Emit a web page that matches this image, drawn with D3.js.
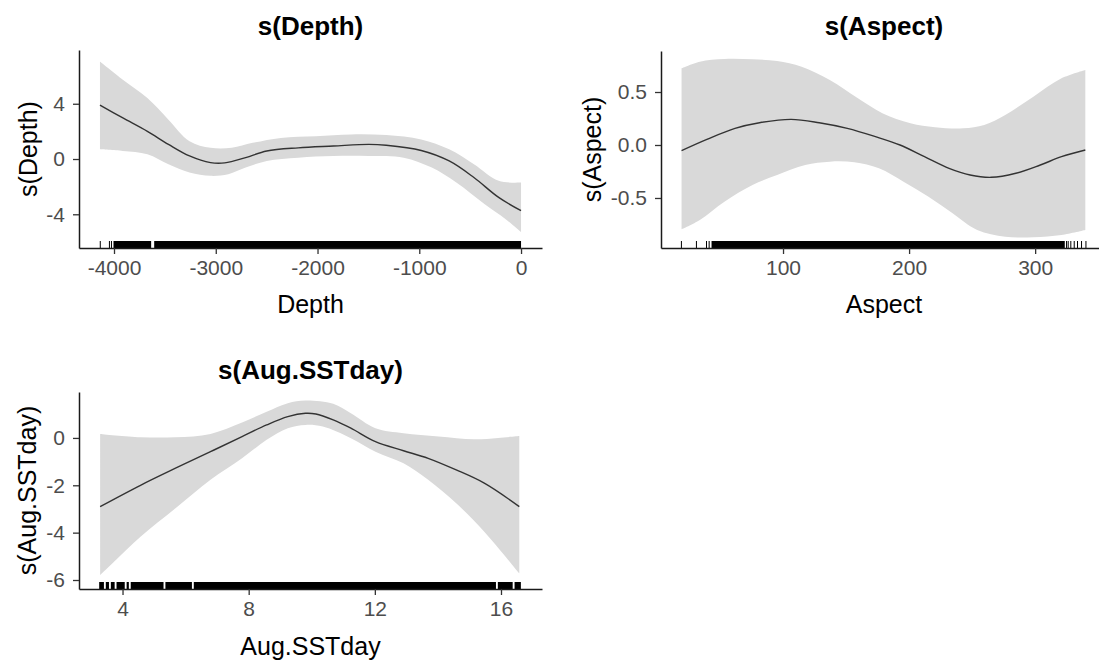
<html>
<head>
<meta charset="utf-8">
<title>GAM smooths</title>
<script type="text/javascript" src="https://d3js.org/d3.v7.min.js"></script>
<style>
  body { margin: 0; background-color: #ffffff; }
  text { font-family: "Liberation Sans", Arial, sans-serif; }
</style>
</head>
<body>
<div id="chart"></div>
<script>

// ---- data ----

// s(Depth)
var depthTicks = [-4000, -3000, -2000, -1000, 0];
var depthYTicks = [-4, 0, 4];
var depthFit = [[-4138,3.9],[-3913,2.97],[-3672,2.0],[-3465,1.06],[-3258,0.22],[-3051,-0.26],[-2912,-0.28],[-2706,0.1],[-2499,0.58],[-2189,0.81],[-1844,0.94],[-1498,1.06],[-1325,1.0],[-981,0.62],[-706,-0.14],[-463,-1.34],[-220,-2.78],[0,-3.74]];
var depthUpper = [[-4138,7.05],[-3913,5.73],[-3672,4.41],[-3465,2.85],[-3258,1.29],[-3051,0.81],[-2843,0.81],[-2637,1.17],[-2361,1.53],[-2016,1.65],[-1671,1.78],[-1325,1.73],[-981,1.42],[-706,0.7],[-463,-0.38],[-220,-1.58],[0,-1.7]];
var depthLower = [[-4138,0.7],[-3913,0.58],[-3672,0.34],[-3465,-0.38],[-3258,-0.98],[-3051,-1.22],[-2877,-1.1],[-2706,-0.62],[-2499,-0.14],[-2189,0.1],[-1844,0.22],[-1498,0.22],[-1153,0.1],[-877,-0.62],[-636,-1.7],[-360,-3.26],[-154,-4.34],[0,-5.3]];
var depthRugSingles = [-4135, -4045, -4025];
var depthRugSpans = [[-4005,-3635],[-3605,0]];

// s(Aspect)
var aspectTicks = [100, 200, 300];
var aspectYTicks = [-0.5, 0.0, 0.5];
var aspectFit = [[19.5,-0.053],[39.6,0.053],[61.9,0.157],[81.3,0.21],[106.4,0.242],[128.7,0.21],[151,0.157],[173.3,0.079],[192.8,0.0],[212.2,-0.11],[231.7,-0.22],[248.4,-0.283],[265.2,-0.305],[284.7,-0.267],[304.1,-0.189],[320.9,-0.11],[339.8,-0.047]];
var aspectUpper = [[19.5,0.723],[34,0.786],[53.5,0.811],[75.8,0.808],[95.3,0.792],[114.8,0.739],[137.1,0.613],[159.4,0.44],[178.8,0.3],[201.1,0.205],[220.6,0.167],[242.9,0.157],[259.6,0.189],[276.3,0.283],[298.6,0.456],[320.9,0.629],[339.8,0.708]];
var aspectLower = [[19.5,-0.796],[34,-0.708],[53.5,-0.535],[75.8,-0.377],[95.3,-0.283],[117.6,-0.189],[137.1,-0.157],[156.6,-0.163],[176.1,-0.22],[195.6,-0.346],[215.1,-0.487],[234.5,-0.645],[254,-0.802],[276.3,-0.865],[298.6,-0.871],[320.9,-0.849],[339.8,-0.802]];
var aspectRugSingles = [19.4, 31.3, 39.3, 41.4, 324.9, 326.2, 328.3, 331, 333.6, 336.8, 340.3];
var aspectRugSpans = [[43.3,323.5]];

// s(Aug.SSTday)
var sstTicks = [4, 8, 12, 16];
var sstYTicks = [-6, -4, -2, 0];
var sstFit = [[3.29,-2.9],[4.57,-2.0],[5.68,-1.28],[6.79,-0.58],[7.79,0.06],[8.57,0.55],[9.24,0.9],[9.8,1.04],[10.13,1.01],[10.68,0.76],[11.24,0.41],[12.02,-0.16],[12.91,-0.54],[13.69,-0.86],[14.58,-1.35],[15.47,-1.91],[16.58,-2.9]];
var sstUpper = [[3.29,0.17],[4.57,0.03],[5.68,0.03],[6.79,0.17],[7.79,0.65],[8.57,1.11],[9.24,1.47],[9.8,1.58],[10.68,1.44],[11.24,1.04],[12.02,0.41],[12.91,0.2],[14.02,0.06],[15.14,-0.06],[15.91,0.0],[16.58,0.08]];
var sstLower = [[3.29,-5.79],[3.79,-5.15],[4.57,-4.17],[5.68,-2.97],[6.79,-1.77],[7.79,-0.86],[8.57,-0.08],[9.24,0.41],[9.8,0.55],[10.35,0.48],[11.24,-0.01],[12.02,-0.58],[12.91,-1.07],[13.69,-1.77],[14.58,-2.76],[15.47,-3.96],[16.14,-5.01],[16.58,-5.72]];
var sstRugSingles = [];
var sstRugSpans = [[3.26,3.41],[3.47,3.57],[3.63,3.75],[3.81,4.07],[4.13,4.2],[4.26,5.3],[5.36,6.2],[6.26,15.84],[15.9,16.37],[16.43,16.63]];

// ---- canvas ----
var canvasWidth = 1099;
var canvasHeight = 666;

var svg = d3.select("#chart").append("svg")
  .attr("width", canvasWidth)
  .attr("height", canvasHeight);

svg.append("rect").attr("width", canvasWidth).attr("height", canvasHeight).attr("fill", "#ffffff");

//R prints a plain hyphen for negatives
function hyphen(fmt){
  return function(d){ return fmt(d).replace("\u2212", "-"); };
}

//Panel placement (pixel boxes) and scale domains
var panels = [
  { title: "s(Depth)", xlab: "Depth", ylab: "s(Depth)",
    left: 79, right: 542, top: 50, bottom: 248,
    xdom: [-4344, 206], ydom: [-6.44, 7.89],
    xticks: depthTicks, yticks: depthYTicks, yfmt: d3.format("d"),
    fit: depthFit, upper: depthUpper, lower: depthLower,
    rugSingles: depthRugSingles, rugSpans: depthRugSpans,
    titleY: 35, xlabY: 313, ylabX: 37 },
  { title: "s(Aspect)", xlab: "Aspect", ylab: "s(Aspect)",
    left: 661, right: 1107, top: 51, bottom: 248,
    xdom: [3.2, 357], ydom: [-0.972, 0.887],
    xticks: aspectTicks, yticks: aspectYTicks, yfmt: d3.format(".1f"),
    fit: aspectFit, upper: aspectUpper, lower: aspectLower,
    rugSingles: aspectRugSingles, rugSpans: aspectRugSpans,
    titleY: 35, xlabY: 313, ylabX: 601 },
  { title: "s(Aug.SSTday)", xlab: "Aug.SSTday", ylab: "s(Aug.SSTday)",
    left: 79, right: 542, top: 392, bottom: 589,
    xdom: [2.62, 17.3], ydom: [-6.38, 1.94],
    xticks: sstTicks, yticks: sstYTicks, yfmt: d3.format("d"),
    fit: sstFit, upper: sstUpper, lower: sstLower,
    rugSingles: sstRugSingles, rugSpans: sstRugSpans,
    titleY: 379, xlabY: 655, ylabX: 36 }
];

panels.forEach(drawPanel);

function drawPanel(p){
  var x = d3.scaleLinear().domain(p.xdom).range([p.left, p.right]);
  var y = d3.scaleLinear().domain(p.ydom).range([p.bottom, p.top]);

  var line = d3.line()
    .x(function(d){ return x(d[0]); })
    .y(function(d){ return y(d[1]); })
    .curve(d3.curveCatmullRom);

  //Confidence band: upper edge, then lower edge back
  var bandPath = line(p.upper) + "L" + line(p.lower.slice().reverse()).slice(1) + "Z";
  svg.append("path")
    .attr("d", bandPath)
    .attr("fill", "#d9d9d9")
    .attr("stroke", "none");

  //Fitted smooth
  svg.append("path")
    .attr("d", line(p.fit))
    .attr("fill", "none")
    .attr("stroke", "#333333")
    .attr("stroke-width", 1.4);

  //Rug
  var rug = svg.append("g");
  rug.selectAll("rect.span").data(p.rugSpans).enter().append("rect")
    .attr("x", function(d){ return x(d[0]); })
    .attr("width", function(d){ return x(d[1]) - x(d[0]); })
    .attr("y", p.bottom - 7)
    .attr("height", 7)
    .attr("fill", "#000000");
  rug.selectAll("line.single").data(p.rugSingles).enter().append("line")
    .attr("x1", function(d){ return x(d); })
    .attr("x2", function(d){ return x(d); })
    .attr("y1", p.bottom - 7)
    .attr("y2", p.bottom)
    .attr("stroke", "#000000")
    .attr("stroke-width", 1);

  //Axes
  var gx = svg.append("g")
    .attr("transform", "translate(0," + p.bottom + ")")
    .call(d3.axisBottom(x).tickValues(p.xticks).tickFormat(hyphen(d3.format("d"))).tickSizeInner(6).tickSizeOuter(0).tickPadding(6));
  var gy = svg.append("g")
    .attr("transform", "translate(" + p.left + ",0)")
    .call(d3.axisLeft(y).tickValues(p.yticks).tickFormat(hyphen(p.yfmt)).tickSizeInner(6).tickSizeOuter(0).tickPadding(8));

  [gx, gy].forEach(function(g){
    g.select(".domain").attr("stroke", "#1a1a1a").attr("stroke-width", 1.5);
    g.selectAll(".tick line").attr("stroke", "#333333").attr("stroke-width", 1.3);
    g.selectAll(".tick text")
      .attr("fill", "#4d4d4d")
      .style("font-size", "21px")
      .style("font-family", "'Liberation Sans', Arial, sans-serif");
  });

  //Titles
  var cx = (p.left + p.right) / 2;
  if (p.right > canvasWidth) cx = 884;
  svg.append("text")
    .text(p.title)
    .attr("x", cx)
    .attr("y", p.titleY)
    .attr("text-anchor", "middle")
    .style("font-size", "26px")
    .style("font-weight", "bold")
    .attr("fill", "#000000");

  svg.append("text")
    .text(p.xlab)
    .attr("x", cx)
    .attr("y", p.xlabY)
    .attr("text-anchor", "middle")
    .style("font-size", "25px")
    .attr("fill", "#000000");

  var cy = (p.top + p.bottom) / 2;
  svg.append("text")
    .text(p.ylab)
    .attr("transform", "translate(" + p.ylabX + "," + cy + ") rotate(-90)")
    .attr("text-anchor", "middle")
    .style("font-size", "25px")
    .attr("fill", "#000000");
}

</script>
</body>
</html>
